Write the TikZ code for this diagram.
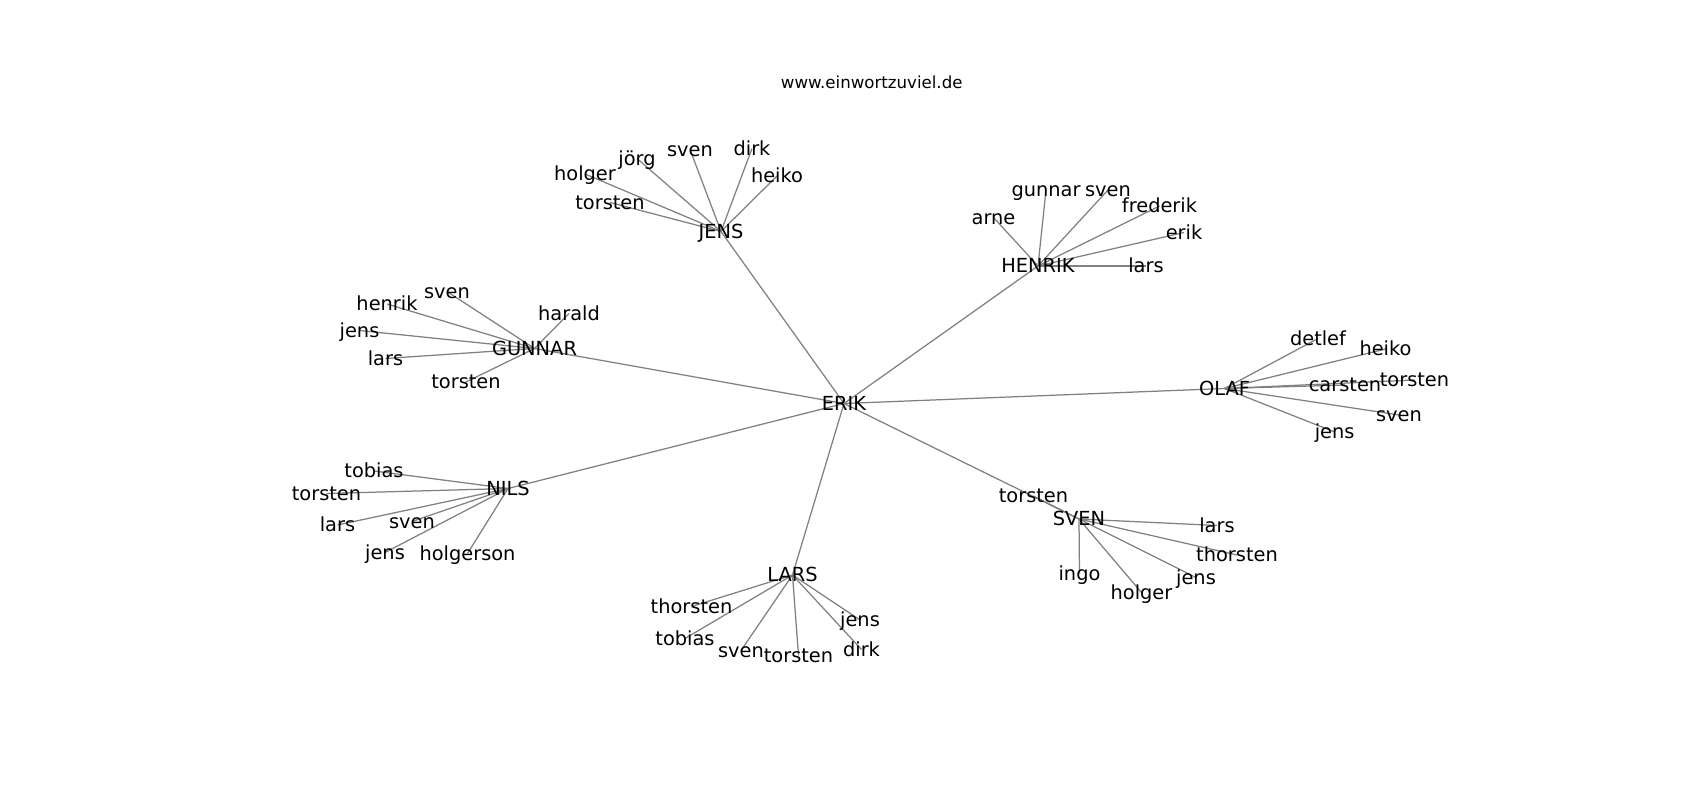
\documentclass[tikz,border=0pt]{standalone}
\usepackage{fontspec}
\setmainfont{DejaVu Sans}
\usetikzlibrary{backgrounds}
\definecolor{edgegray}{RGB}{128,128,128}
\tikzset{
  lbl/.style={font=\fontsize{14}{16}\selectfont, inner sep=0pt, outer sep=0pt,
    text height=0.98em, text depth=0pt, anchor=center},
  ttl/.style={font=\fontsize{12}{14}\selectfont, inner sep=0pt, anchor=base},
  edge/.style={draw=edgegray, line width=0.9pt}
}
\begin{document}
\begin{tikzpicture}[x=0.01in, y=-0.01in]
\useasboundingbox (0,0) rectangle (1700,800);
\node[ttl] (title) at (871.7,88.3) {www.einwortzuviel.de};
% hubs
\node[lbl] (ERIK) at (844,403.5) {ERIK};
\node[lbl] (JENS) at (721,231.5) {JENS};
\node[lbl] (HENRIK) at (1038,266) {HENRIK};
\node[lbl] (GUNNAR) at (534.5,348.5) {GUNNAR};
\node[lbl] (OLAF) at (1224.5,388.5) {OLAF};
\node[lbl] (NILS) at (508,488.5) {NILS};
\node[lbl] (LARS) at (792.5,575) {LARS};
\node[lbl] (SVEN) at (1079,519) {SVEN};
% JENS leaves
\node[lbl] (j1) at (637,158.5) {jörg};
\node[lbl] (j2) at (690,149.5) {sven};
\node[lbl] (j3) at (752,148.5) {dirk};
\node[lbl] (j4) at (777,176) {heiko};
\node[lbl] (j5) at (585,174) {holger};
\node[lbl] (j6) at (610,202.5) {torsten};
% HENRIK leaves
\node[lbl] (h1) at (1046,190) {gunnar};
\node[lbl] (h2) at (1108,190) {sven};
\node[lbl] (h3) at (1159.5,206) {frederik};
\node[lbl] (h4) at (1184,232.5) {erik};
\node[lbl] (h5) at (993.5,217.5) {arne};
\node[lbl] (h6) at (1146,266) {lars};
% GUNNAR leaves
\node[lbl] (g1) at (447,291.5) {sven};
\node[lbl] (g2) at (387,304) {henrik};
\node[lbl] (g3) at (359.5,330.5) {jens};
\node[lbl] (g4) at (385.5,358.5) {lars};
\node[lbl] (g5) at (569,313.5) {harald};
\node[lbl] (g6) at (466,382) {torsten};
% OLAF leaves
\node[lbl] (o1) at (1318,338.5) {detlef};
\node[lbl] (o2) at (1385.5,349) {heiko};
\node[lbl] (o3) at (1345,385) {carsten};
\node[lbl] (o4) at (1414.5,380) {torsten};
\node[lbl] (o5) at (1399,415) {sven};
\node[lbl] (o6) at (1334.6,432) {jens};
% NILS leaves
\node[lbl] (n1) at (374,471) {tobias};
\node[lbl] (n2) at (326.5,493.5) {torsten};
\node[lbl] (n3) at (337.5,525) {lars};
\node[lbl] (n4) at (412,521.5) {sven};
\node[lbl] (n5) at (385,552.5) {jens};
\node[lbl] (n6) at (467.5,553.5) {holgerson};
% LARS leaves
\node[lbl] (l1) at (691.5,606.5) {thorsten};
\node[lbl] (l2) at (685,638.5) {tobias};
\node[lbl] (l3) at (741,650.5) {sven};
\node[lbl] (l4) at (798.5,655.5) {torsten};
\node[lbl] (l5) at (860,620) {jens};
\node[lbl] (l6) at (861.5,649.5) {dirk};
% SVEN leaves
\node[lbl] (s1) at (1033.5,496) {torsten};
\node[lbl] (s2) at (1217,525.5) {lars};
\node[lbl] (s3) at (1237,555) {thorsten};
\node[lbl] (s4) at (1196,577.5) {jens};
\node[lbl] (s5) at (1079.5,573.5) {ingo};
\node[lbl] (s6) at (1141.5,592.5) {holger};
\begin{pgfonlayer}{background}
\foreach \h in {JENS,HENRIK,GUNNAR,OLAF,NILS,LARS,SVEN}
  \draw[edge] (ERIK.center) -- (\h.center);
\foreach \i in {1,...,6}{
  \draw[edge] (JENS.center) -- (j\i.center);
  \draw[edge] (HENRIK.center) -- (h\i.center);
  \draw[edge] (GUNNAR.center) -- (g\i.center);
  \draw[edge] (OLAF.center) -- (o\i.center);
  \draw[edge] (NILS.center) -- (n\i.center);
  \draw[edge] (LARS.center) -- (l\i.center);
  \draw[edge] (SVEN.center) -- (s\i.center);
}
\end{pgfonlayer}
\end{tikzpicture}
\end{document}
